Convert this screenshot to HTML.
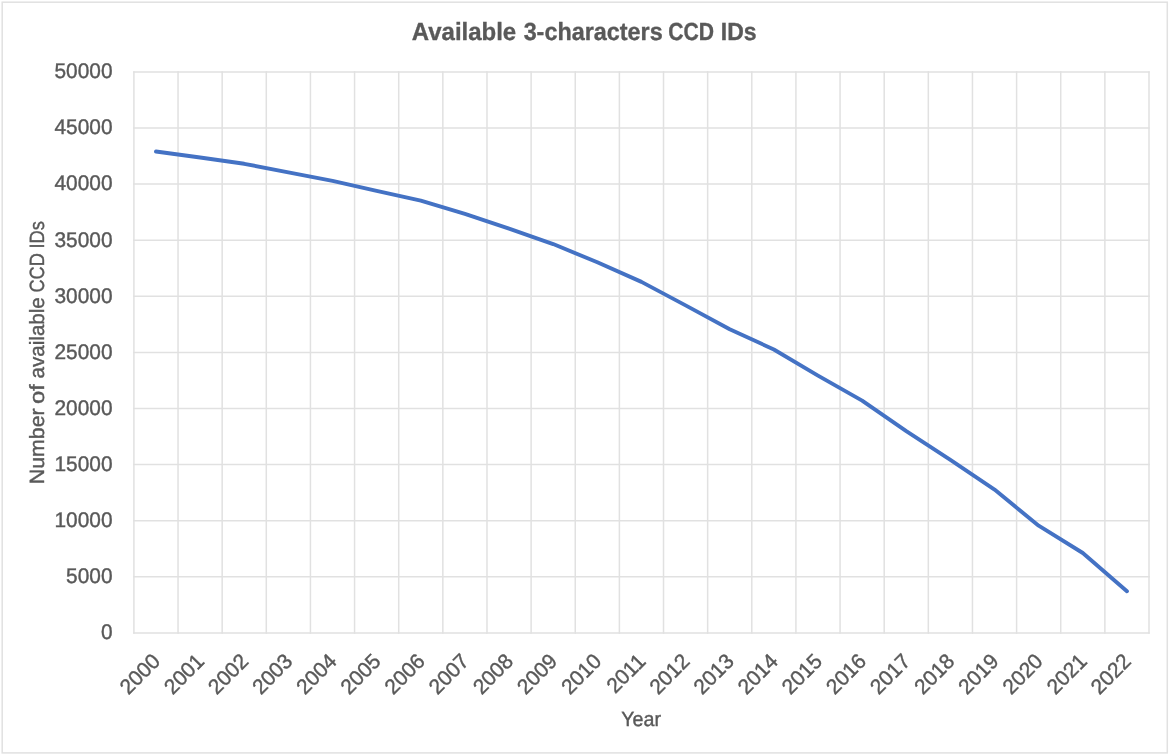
<!DOCTYPE html>
<html lang="en">
<head>
<meta charset="utf-8">
<title>Available 3-characters CCD IDs</title>
<style>
html,body{margin:0;padding:0;background:#fff;}
body{width:1170px;height:756px;overflow:hidden;}
svg{display:block;}
text{font-family:"Liberation Sans", Arial, Helvetica, sans-serif;fill:#595959;stroke:#595959;stroke-width:0.4;text-rendering:geometricPrecision;}
.grid line{stroke:#E1E1E1;stroke-width:1.5;}
.tick{font-size:21.2px;}
.xt{font-size:21.2px;}
.axt{font-size:20.6px;}
.title{font-size:24.8px;font-weight:bold;stroke-width:0.35;}
</style>
</head>
<body>
<svg width="1170" height="756" viewBox="0 0 1170 756">
<rect x="0" y="0" width="1170" height="756" fill="#ffffff"/>
<rect x="2.2" y="2.2" width="1165.1" height="750.7" fill="none" stroke="#E1E1E1" stroke-width="1.5"/>
<g class="grid">
<line x1="133.15" y1="71.90" x2="1149.75" y2="71.90"/>
<line x1="133.15" y1="128.00" x2="1149.75" y2="128.00"/>
<line x1="133.15" y1="184.10" x2="1149.75" y2="184.10"/>
<line x1="133.15" y1="240.20" x2="1149.75" y2="240.20"/>
<line x1="133.15" y1="296.30" x2="1149.75" y2="296.30"/>
<line x1="133.15" y1="352.40" x2="1149.75" y2="352.40"/>
<line x1="133.15" y1="408.50" x2="1149.75" y2="408.50"/>
<line x1="133.15" y1="464.60" x2="1149.75" y2="464.60"/>
<line x1="133.15" y1="520.70" x2="1149.75" y2="520.70"/>
<line x1="133.15" y1="576.80" x2="1149.75" y2="576.80"/>
<line x1="133.15" y1="632.90" x2="1149.75" y2="632.90"/>
<line x1="133.90" y1="71.15" x2="133.90" y2="633.65"/>
<line x1="178.03" y1="71.15" x2="178.03" y2="633.65"/>
<line x1="222.17" y1="71.15" x2="222.17" y2="633.65"/>
<line x1="266.30" y1="71.15" x2="266.30" y2="633.65"/>
<line x1="310.44" y1="71.15" x2="310.44" y2="633.65"/>
<line x1="354.57" y1="71.15" x2="354.57" y2="633.65"/>
<line x1="398.71" y1="71.15" x2="398.71" y2="633.65"/>
<line x1="442.84" y1="71.15" x2="442.84" y2="633.65"/>
<line x1="486.98" y1="71.15" x2="486.98" y2="633.65"/>
<line x1="531.11" y1="71.15" x2="531.11" y2="633.65"/>
<line x1="575.25" y1="71.15" x2="575.25" y2="633.65"/>
<line x1="619.38" y1="71.15" x2="619.38" y2="633.65"/>
<line x1="663.52" y1="71.15" x2="663.52" y2="633.65"/>
<line x1="707.65" y1="71.15" x2="707.65" y2="633.65"/>
<line x1="751.79" y1="71.15" x2="751.79" y2="633.65"/>
<line x1="795.92" y1="71.15" x2="795.92" y2="633.65"/>
<line x1="840.06" y1="71.15" x2="840.06" y2="633.65"/>
<line x1="884.19" y1="71.15" x2="884.19" y2="633.65"/>
<line x1="928.33" y1="71.15" x2="928.33" y2="633.65"/>
<line x1="972.46" y1="71.15" x2="972.46" y2="633.65"/>
<line x1="1016.60" y1="71.15" x2="1016.60" y2="633.65"/>
<line x1="1060.73" y1="71.15" x2="1060.73" y2="633.65"/>
<line x1="1104.87" y1="71.15" x2="1104.87" y2="633.65"/>
<line x1="1149.00" y1="71.15" x2="1149.00" y2="633.65"/>
</g>
<polyline points="155.97,151.45 200.10,157.50 244.24,163.80 288.37,172.45 332.51,180.80 376.64,190.90 420.78,200.55 464.91,213.80 509.05,228.60 553.18,244.05 597.32,262.30 641.45,281.90 685.58,305.40 729.72,329.25 773.85,349.45 817.99,375.60 862.12,400.60 906.26,431.10 950.39,459.80 994.53,489.60 1038.66,525.70 1082.80,553.00 1126.93,591.30" fill="none" stroke="#4472C4" stroke-width="3.9" stroke-linecap="round" stroke-linejoin="round"/>
<text class="title" y="39.60"><tspan x="411.83" textLength="104.37" lengthAdjust="spacingAndGlyphs">Available</tspan> <tspan x="523.63" textLength="139.01" lengthAdjust="spacingAndGlyphs">3-characters</tspan> <tspan x="668.24" textLength="45.79" lengthAdjust="spacingAndGlyphs">CCD</tspan> <tspan x="720.76" textLength="35.77" lengthAdjust="spacingAndGlyphs">IDs</tspan></text>
<text class="tick" x="54.51" y="78.20" textLength="58.01" lengthAdjust="spacingAndGlyphs">50000</text>
<text class="tick" x="54.51" y="134.30" textLength="58.01" lengthAdjust="spacingAndGlyphs">45000</text>
<text class="tick" x="54.51" y="190.40" textLength="58.01" lengthAdjust="spacingAndGlyphs">40000</text>
<text class="tick" x="54.51" y="246.50" textLength="58.01" lengthAdjust="spacingAndGlyphs">35000</text>
<text class="tick" x="54.51" y="302.60" textLength="58.01" lengthAdjust="spacingAndGlyphs">30000</text>
<text class="tick" x="54.51" y="358.70" textLength="58.01" lengthAdjust="spacingAndGlyphs">25000</text>
<text class="tick" x="54.51" y="414.80" textLength="58.01" lengthAdjust="spacingAndGlyphs">20000</text>
<text class="tick" x="54.51" y="470.90" textLength="58.01" lengthAdjust="spacingAndGlyphs">15000</text>
<text class="tick" x="54.51" y="527.00" textLength="58.01" lengthAdjust="spacingAndGlyphs">10000</text>
<text class="tick" x="66.11" y="583.10" textLength="46.41" lengthAdjust="spacingAndGlyphs">5000</text>
<text class="tick" x="100.92" y="639.20" textLength="11.60" lengthAdjust="spacingAndGlyphs">0</text>
<text class="xt" transform="translate(161.37 662.60) rotate(-45)" x="-46.41" y="0" textLength="46.41" lengthAdjust="spacingAndGlyphs">2000</text>
<text class="xt" transform="translate(205.50 662.60) rotate(-45)" x="-46.41" y="0" textLength="46.41" lengthAdjust="spacingAndGlyphs">2001</text>
<text class="xt" transform="translate(249.64 662.60) rotate(-45)" x="-46.41" y="0" textLength="46.41" lengthAdjust="spacingAndGlyphs">2002</text>
<text class="xt" transform="translate(293.77 662.60) rotate(-45)" x="-46.41" y="0" textLength="46.41" lengthAdjust="spacingAndGlyphs">2003</text>
<text class="xt" transform="translate(337.91 662.60) rotate(-45)" x="-46.41" y="0" textLength="46.41" lengthAdjust="spacingAndGlyphs">2004</text>
<text class="xt" transform="translate(382.04 662.60) rotate(-45)" x="-46.41" y="0" textLength="46.41" lengthAdjust="spacingAndGlyphs">2005</text>
<text class="xt" transform="translate(426.18 662.60) rotate(-45)" x="-46.41" y="0" textLength="46.41" lengthAdjust="spacingAndGlyphs">2006</text>
<text class="xt" transform="translate(470.31 662.60) rotate(-45)" x="-46.41" y="0" textLength="46.41" lengthAdjust="spacingAndGlyphs">2007</text>
<text class="xt" transform="translate(514.45 662.60) rotate(-45)" x="-46.41" y="0" textLength="46.41" lengthAdjust="spacingAndGlyphs">2008</text>
<text class="xt" transform="translate(558.58 662.60) rotate(-45)" x="-46.41" y="0" textLength="46.41" lengthAdjust="spacingAndGlyphs">2009</text>
<text class="xt" transform="translate(602.72 662.60) rotate(-45)" x="-46.41" y="0" textLength="46.41" lengthAdjust="spacingAndGlyphs">2010</text>
<text class="xt" transform="translate(646.85 662.60) rotate(-45)" x="-44.86" y="0" textLength="44.86" lengthAdjust="spacingAndGlyphs">2011</text>
<text class="xt" transform="translate(690.98 662.60) rotate(-45)" x="-46.41" y="0" textLength="46.41" lengthAdjust="spacingAndGlyphs">2012</text>
<text class="xt" transform="translate(735.12 662.60) rotate(-45)" x="-46.41" y="0" textLength="46.41" lengthAdjust="spacingAndGlyphs">2013</text>
<text class="xt" transform="translate(779.25 662.60) rotate(-45)" x="-46.41" y="0" textLength="46.41" lengthAdjust="spacingAndGlyphs">2014</text>
<text class="xt" transform="translate(823.39 662.60) rotate(-45)" x="-46.41" y="0" textLength="46.41" lengthAdjust="spacingAndGlyphs">2015</text>
<text class="xt" transform="translate(867.52 662.60) rotate(-45)" x="-46.41" y="0" textLength="46.41" lengthAdjust="spacingAndGlyphs">2016</text>
<text class="xt" transform="translate(911.66 662.60) rotate(-45)" x="-46.41" y="0" textLength="46.41" lengthAdjust="spacingAndGlyphs">2017</text>
<text class="xt" transform="translate(955.79 662.60) rotate(-45)" x="-46.41" y="0" textLength="46.41" lengthAdjust="spacingAndGlyphs">2018</text>
<text class="xt" transform="translate(999.93 662.60) rotate(-45)" x="-46.41" y="0" textLength="46.41" lengthAdjust="spacingAndGlyphs">2019</text>
<text class="xt" transform="translate(1044.06 662.60) rotate(-45)" x="-46.41" y="0" textLength="46.41" lengthAdjust="spacingAndGlyphs">2020</text>
<text class="xt" transform="translate(1088.20 662.60) rotate(-45)" x="-46.41" y="0" textLength="46.41" lengthAdjust="spacingAndGlyphs">2021</text>
<text class="xt" transform="translate(1132.33 662.60) rotate(-45)" x="-46.41" y="0" textLength="46.41" lengthAdjust="spacingAndGlyphs">2022</text>
<text class="axt" transform="translate(43.5 0) rotate(-90)" y="0"><tspan x="-484.27" textLength="75.87" lengthAdjust="spacingAndGlyphs">Number</tspan> <tspan x="-403.94" textLength="19.76" lengthAdjust="spacingAndGlyphs">of</tspan> <tspan x="-378.39" textLength="81.13" lengthAdjust="spacingAndGlyphs">available</tspan> <tspan x="-292.55" textLength="39.43" lengthAdjust="spacingAndGlyphs">CCD</tspan> <tspan x="-248.53" textLength="27.51" lengthAdjust="spacingAndGlyphs">IDs</tspan></text>
<text class="axt" x="621.29" y="725.7" textLength="39.70" lengthAdjust="spacingAndGlyphs">Year</text>
</svg>
</body>
</html>
